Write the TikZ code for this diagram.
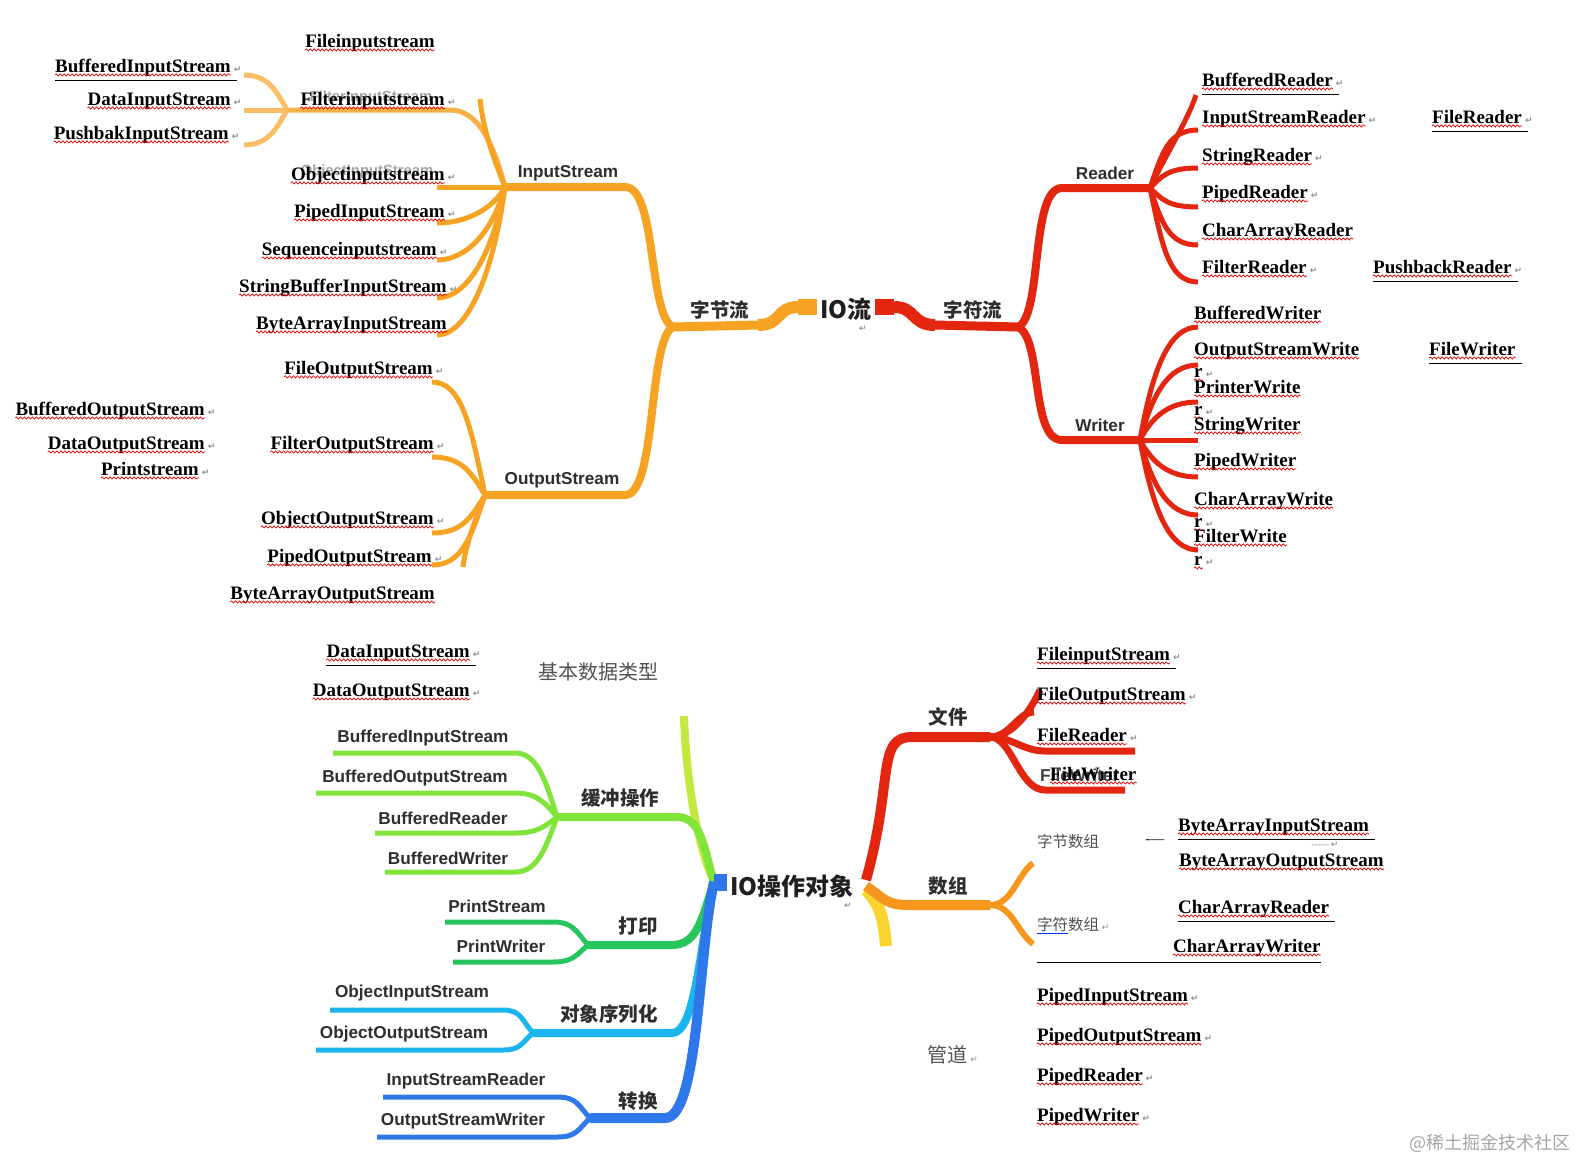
\documentclass[tikz,border=0pt]{standalone}
\usepackage{fontspec}
\setmainfont{Liberation Serif}
\newfontfamily\mmfont{Liberation Sans}
\newfontfamily\cjk{Noto Sans CJK SC}
\newfontfamily\symf{DejaVu Sans}
\usetikzlibrary{decorations.pathmorphing}

\definecolor{bytec}{RGB}{246,163,36}
\definecolor{charc}{RGB}{226,38,16}
\definecolor{bufc}{RGB}{128,228,58}
\definecolor{upc}{RGB}{196,232,62}
\definecolor{prnc}{RGB}{38,198,92}
\definecolor{serc}{RGB}{28,180,238}
\definecolor{cvtc}{RGB}{46,120,234}
\definecolor{arrc}{RGB}{247,150,28}
\definecolor{yelc}{RGB}{250,212,46}

\newcommand{\pmk}{\rlap{\,\textcolor{black!45}{\symf\fontsize{9}{9}\selectfont ↵}}}

\begin{document}
\begin{tikzpicture}[
    x=1pt, y=-1pt,
    jt/.style={font=\fontsize{19}{20}\selectfont\bfseries, inner sep=0pt,
               text height=12.8pt, text depth=2.6pt,
               append after command={(\tikzlastnode.south west) edge[wave] (\tikzlastnode.south east)}},
    wave/.style={draw=red!90!black, line width=0.7pt, decorate,
                 decoration={snake, amplitude=1.1pt, segment length=4pt}},
    ul/.style={append after command={([yshift=-5pt]\tikzlastnode.south west)
               edge[draw=black, line width=0.8pt] ([yshift=-5pt, xshift=6pt]\tikzlastnode.south east)}},
    mm/.style={font=\mmfont\bfseries\fontsize{17.2}{18}\selectfont, text=black!82, inner sep=0pt},
    ghost/.style={mm, text=black!35, font=\mmfont\bfseries\fontsize{14.8}{16}\selectfont},
    cn/.style={font=\cjk\bfseries\fontsize{19.5}{21}\selectfont, text=black!82, inner sep=0pt},
    big/.style={font=\cjk\bfseries\fontsize{24}{26}\selectfont, text=black!88, inner sep=0pt},
    cg/.style={font=\cjk\fontsize{20}{22}\selectfont, text=black!68, inner sep=0pt},
    cs/.style={font=\cjk\fontsize{15.5}{17}\selectfont, text=black!68, inner sep=0pt},
    pmark/.style={font=\symf\fontsize{9}{9}\selectfont, text=black!55, inner sep=0pt},
    leaf/.style={line width=5pt},
    limb/.style={line width=8pt}
  ]
  \fill[white] (0,0) rectangle (1576,1160);
  \useasboundingbox (0,0) rectangle (1576,1160);

  % byte streams
  \coordinate (ioL) at (817,307);
  \coordinate (bsL) at (798,307);
  \coordinate (bsZ) at (758,325);
  \coordinate (bhub) at (673,327);
  \coordinate (i1) at (625,187);
  \coordinate (ihub) at (505,187);
  \coordinate (o1) at (625,495);
  \coordinate (ohub) at (485,495);
  \coordinate (fhub) at (287,110);
  \coordinate (ifl) at (450,110);
  \coordinate (istub) at (480,99);
  \coordinate (ostub) at (463,567);
  \draw[bytec, line width=16pt] (bsL) -- (ioL);
  \draw[bytec, line width=9pt] (bhub) -- (bsZ);
  \draw[bytec, line width=12pt] (bsZ) .. controls +(24,0) and +(-22,0) .. (bsL);
  \draw[bytec, limb] (ihub) -- (i1) .. controls +(32,0) and +(-25,-12) .. (bhub);
  \draw[bytec, limb] (ohub) -- (o1) .. controls +(32,0) and +(-25,12) .. (bhub);
  \foreach \y [evaluate=\y as \d using 0.6*(\y-187)] in {187,223,260,298,335} {
    \coordinate (in\y) at (437,\y);
    \draw[bytec, leaf] (in\y) .. controls +(30,0) and +(-12,\d) .. (ihub);
  }
  \draw[bytec!85, leaf] (fhub) -- (ifl) .. controls +(28,0) and +(-12,-45) .. (ihub);
  \draw[bytec, leaf] (ihub) .. controls +(-12,-30) and +(3,30) .. (istub);
  \foreach \y [evaluate=\y as \d using 0.5*(\y-110)] in {75,110,145} {
    \coordinate (fl\y) at (244,\y);
    \draw[bytec!70, leaf] (fl\y) .. controls +(25,0) and +(-10,\d) .. (fhub);
  }
  \foreach \y [evaluate=\y as \d using 0.6*(\y-495)] in {382,457,533,565} {
    \coordinate (on\y) at (432,\y);
    \draw[bytec, leaf] (on\y) .. controls +(30,0) and +(-14,\d) .. (ohub);
  }
  \draw[bytec, leaf] (ohub) .. controls +(-10,25) and +(2,-20) .. (ostub);

  % char streams
  \coordinate (ioR) at (875,307);
  \coordinate (csR) at (894,307);
  \coordinate (csZ) at (935,325);
  \coordinate (chub) at (1018,327);
  \coordinate (r1) at (1062,188);
  \coordinate (rhub) at (1150,188);
  \coordinate (w1) at (1062,440);
  \coordinate (whub) at (1140,440);
  \coordinate (rstub) at (1196,95);
  \draw[charc, line width=16pt] (ioR) -- (csR);
  \draw[charc, line width=12pt] (csR) .. controls +(22,0) and +(-24,0) .. (csZ);
  \draw[charc, line width=9pt] (csZ) -- (chub);
  \draw[charc, limb] (chub) .. controls +(25,-12) and +(-32,0) .. (r1) -- (rhub);
  \draw[charc, limb] (chub) .. controls +(25,12) and +(-32,0) .. (w1) -- (whub);
  \draw[charc, leaf] (rhub) .. controls +(14,-30) and +(-8,25) .. (rstub);
  \foreach \y [evaluate=\y as \d using 0.6*(\y-188)] in {130,168,207,245,282} {
    \coordinate (rr\y) at (1198,\y);
    \draw[charc, leaf] (rhub) .. controls +(12,\d) and +(-30,0) .. (rr\y);
  }
  \foreach \y [evaluate=\y as \d using 0.6*(\y-440)] in {327,365,402,440,477,515,550} {
    \coordinate (ww\y) at (1198,\y);
    \draw[charc, leaf] (whub) .. controls +(12,\d) and +(-30,0) .. (ww\y);
  }

  % IO objects, left side
  \coordinate (bc) at (714,882);
  \coordinate (bcR) at (727,882);
  \coordinate (yg) at (684,716);
  \coordinate (hc1) at (677,817);
  \coordinate (hchub) at (557,817);
  \coordinate (hcbk) at (515,817);
  \coordinate (pr1) at (672,945);
  \coordinate (prhub) at (588,945);
  \coordinate (prbk) at (553,945);
  \coordinate (ob1) at (672,1033);
  \coordinate (obhub) at (533,1033);
  \coordinate (obbk) at (503,1033);
  \coordinate (cv1) at (665,1118);
  \coordinate (cvhub) at (590,1118);
  \coordinate (cvbk) at (557,1118);
  \draw[upc, limb] (bc) .. controls +(-18,-40) and +(2,60) .. (yg);
  \draw[bufc, limb] (hchub) -- (hc1) .. controls +(25,0) and +(-10,-32) .. (bc);
  \foreach \x/\y [evaluate=\y as \d using 0.6*(\y-817)] in {333/753,316/793,375/833,385/872} {
    \coordinate (hc\y) at (\x,\y);
    \draw[bufc, leaf] (hc\y) -- (hc\y -| hcbk) .. controls +(22,0) and +(-12,\d) .. (hchub);
  }
  \draw[prnc, limb] (prhub) -- (pr1) .. controls +(26,0) and +(-12,35) .. (bc);
  \foreach \x/\y [evaluate=\y as \d using 0.6*(\y-945)] in {445/922,453/962} {
    \coordinate (pr\y) at (\x,\y);
    \draw[prnc, leaf] (pr\y) -- (pr\y -| prbk) .. controls +(20,0) and +(-12,\d) .. (prhub);
  }
  \draw[serc, limb] (obhub) -- (ob1) .. controls +(24,0) and +(-14,60) .. (bc);
  \foreach \x/\y [evaluate=\y as \d using 0.6*(\y-1033)] in {330/1010,316/1050} {
    \coordinate (ob\y) at (\x,\y);
    \draw[serc, leaf] (ob\y) -- (ob\y -| obbk) .. controls +(18,0) and +(-12,\d) .. (obhub);
  }
  \draw[cvtc, line width=10pt] (cvhub) -- (cv1) .. controls +(34,0) and +(-16,70) .. (bc);
  \foreach \x/\y [evaluate=\y as \d using 0.6*(\y-1118)] in {383/1097,377/1137} {
    \coordinate (cv\y) at (\x,\y);
    \draw[cvtc, leaf] (cv\y) -- (cv\y -| cvbk) .. controls +(20,0) and +(-12,\d) .. (cvhub);
  }
  \draw[cvtc, line width=17pt] (bc) -- (bcR);

  % IO objects, right side
  \coordinate (ye0) at (866,890);
  \coordinate (ye1) at (886,946);
  \coordinate (ar0) at (866,886);
  \coordinate (ar1) at (910,905);
  \coordinate (arhub) at (990,905);
  \coordinate (au) at (1033,863);
  \coordinate (ad) at (1033,944);
  \coordinate (rc0) at (866,880);
  \coordinate (fi1) at (912,737);
  \coordinate (fihub) at (990,737);
  \coordinate (fu) at (1040,690);
  \coordinate (fm) at (1034,712);
  \coordinate (fr3) at (1045,751);
  \coordinate (fr3e) at (1135,751);
  \coordinate (fr4) at (1045,790);
  \coordinate (fr4e) at (1125,790);
  \draw[yelc, line width=12pt] (ye0) .. controls +(14,14) and +(-2,-26) .. (ye1);
  \draw[arrc, line width=10pt] (ar0) .. controls +(20,14) and +(-24,0) .. (ar1) -- (arhub);
  \draw[arrc, line width=6pt] (arhub) .. controls +(22,0) and +(-16,12) .. (au);
  \draw[arrc, line width=6pt] (arhub) .. controls +(22,0) and +(-16,-12) .. (ad);
  \draw[charc, line width=10pt] (rc0) .. controls +(28,-100) and +(-36,0) .. (fi1) -- (fihub);
  \draw[charc, line width=7pt] (fihub) .. controls +(22,0) and +(-10,22) .. (fu);
  \draw[charc, line width=7pt] (fihub) .. controls +(20,0) and +(-16,0) .. (fm);
  \draw[charc, line width=7pt] (fihub) .. controls +(22,0) and +(-22,0) .. (fr3) -- (fr3e);
  \draw[charc, line width=7pt] (fihub) .. controls +(22,0) and +(-26,0) .. (fr4) -- (fr4e);

  % texts, top left
  \node[ghost] (gFil) at (371,98) {FilterInputStream};
  \node[ghost] (gObj) at (367,172) {ObjectInputStream};
  \node[jt] (tFis) at (370,42) {Fileinputstream};
  \node[jt, ul, anchor=east] (tBis) at (231,67) {BufferedInputStream\pmk};
  \node[jt, anchor=east] (tDis) at (231,100) {DataInputStream\pmk};
  \node[jt, anchor=east] (tPbis) at (229,134) {PushbakInputStream\pmk};
  \node[jt, anchor=east] (tFilis) at (445,100) {Filterinputstream\pmk};
  \node[jt, anchor=east] (tOis) at (445,175) {Objectinputstream\pmk};
  \node[jt, anchor=east] (tPipis) at (445,212) {PipedInputStream\pmk};
  \node[jt, anchor=east] (tSeqis) at (437,250) {Sequenceinputstream\pmk};
  \node[jt, anchor=east] (tSbis) at (447,287) {StringBufferInputStream\pmk};
  \node[jt, anchor=east] (tBais) at (447,324) {ByteArrayInputStream};
  \node[jt, anchor=east] (tFos) at (433,369) {FileOutputStream\pmk};
  \node[jt, anchor=east] (tBos) at (205,410) {BufferedOutputStream\pmk};
  \node[jt, anchor=east] (tDos) at (205,444) {DataOutputStream\pmk};
  \node[jt, anchor=east] (tPrs) at (199,470) {Printstream\pmk};
  \node[jt, anchor=east] (tFilos) at (434,444) {FilterOutputStream\pmk};
  \node[jt, anchor=east] (tOos) at (434,519) {ObjectOutputStream\pmk};
  \node[jt, anchor=east] (tPipos) at (432,557) {PipedOutputStream\pmk};
  \node[jt, anchor=east] (tBaos) at (435,594) {ByteArrayOutputStream};

  % texts, top mind map
  \node[mm] (nIn) at (568,173) {InputStream};
  \node[mm] (nOut) at (562,480) {OutputStream};
  \node[cn] (nByte) at (720,310) {字节流};
  \node[big] (nIo) at (846,309) {IO流};
  \node[pmark] (nIoM) at (863,329) {↵};
  \node[cn] (nChar) at (973,310) {字符流};
  \node[mm] (nRd) at (1105,173) {Reader};
  \node[mm] (nWr) at (1100,425) {Writer};

  % texts, top right
  \node[jt, ul, anchor=west] (tBrd) at (1202,81) {BufferedReader\pmk};
  \node[jt, anchor=west] (tIsr) at (1202,118) {InputStreamReader\pmk};
  \node[jt, ul, anchor=west] (tFrd) at (1432,118) {FileReader\pmk};
  \node[jt, anchor=west] (tSrd) at (1202,156) {StringReader\pmk};
  \node[jt, anchor=west] (tPrd) at (1202,193) {PipedReader\pmk};
  \node[jt, anchor=west] (tCrd) at (1202,231) {CharArrayReader};
  \node[jt, anchor=west] (tFlrd) at (1202,268) {FilterReader\pmk};
  \node[jt, ul, anchor=west] (tPbrd) at (1373,268) {PushbackReader\pmk};
  \node[jt, anchor=west] (tBwr) at (1194,314) {BufferedWriter};
  \node[jt, anchor=west] (tOswr) at (1194,350) {OutputStreamWrite};
  \node[jt, ul, anchor=west] (tFwr) at (1429,350) {FileWriter};
  \node[jt, anchor=west] (tR1) at (1194,372) {r\pmk};
  \node[jt, anchor=west] (tPwr) at (1194,388) {PrinterWrite};
  \node[jt, anchor=west] (tR2) at (1194,410) {r\pmk};
  \node[jt, anchor=west] (tSwr) at (1194,425) {StringWriter};
  \node[jt, anchor=west] (tPipwr) at (1194,461) {PipedWriter};
  \node[jt, anchor=west] (tCwr) at (1194,500) {CharArrayWrite};
  \node[jt, anchor=west] (tR3) at (1194,522) {r\pmk};
  \node[jt, anchor=west] (tFlwr) at (1194,537) {FilterWrite};
  \node[jt, anchor=west] (tR4) at (1194,560) {r\pmk};

  % texts, bottom left
  \node[jt, ul, anchor=east] (bDis) at (470,652) {DataInputStream\pmk};
  \node[cg] (bBasic) at (598,672) {基本数据类型};
  \node[jt, anchor=east] (bDos) at (470,691) {DataOutputStream\pmk};
  \node[mm] (bBis) at (423,738) {BufferedInputStream};
  \node[mm] (bBos) at (415,778) {BufferedOutputStream};
  \node[mm] (bBrd) at (443,818) {BufferedReader};
  \node[mm] (bBwr) at (448,858) {BufferedWriter};
  \node[mm] (bPs) at (497,906) {PrintStream};
  \node[mm] (bPw) at (501,946) {PrintWriter};
  \node[mm] (bOis) at (412,993) {ObjectInputStream};
  \node[mm] (bOos) at (404,1034) {ObjectOutputStream};
  \node[mm] (bIsr) at (466,1081) {InputStreamReader};
  \node[mm] (bOsw) at (463,1121) {OutputStreamWriter};
  \node[cn] (bBuf) at (620,798) {缓冲操作};
  \node[cn] (bPrint) at (638,926) {打印};
  \node[cn] (bSer) at (609,1014) {对象序列化};
  \node[cn] (bConv) at (638,1101) {转换};
  \node[big] (bIo) at (792,886) {IO操作对象};
  \node[pmark] (bIoM) at (848,906) {↵};

  % texts, bottom right
  \node[cn] (bFile) at (948,717) {文件};
  \node[cn] (bArr) at (948,886) {数组};
  \node[jt, ul, anchor=west] (bFis) at (1037,655) {FileinputStream\pmk};
  \node[jt, anchor=west] (bFos) at (1037,695) {FileOutputStream\pmk};
  \node[jt, anchor=west] (bFrd) at (1037,736) {FileReader\pmk};
  \node[mm, anchor=west, text=black!75] (bFwrS) at (1040,775) {FileWriter};
  \node[jt, anchor=west] (bFwr) at (1050,775) {FileWriter};
  \node[cs, anchor=west] (bBytes) at (1037,842) {字节数组};
  \node[font=\fontsize{14}{14}\selectfont, inner sep=0pt] (bDash) at (1155,842) {-—};
  \node[jt, ul, anchor=west] (bBai) at (1178,826) {ByteArrayInputStream};
  \node[font=\fontsize{9}{9}\selectfont, text=black!50, inner sep=0pt] (bDots) at (1325,845) {{-}{-}{-}{-}{-}{-}\,{\symf ↵}};
  \node[jt, anchor=west] (bBao) at (1179,861) {ByteArrayOutputStream};
  \node[cs, anchor=west] (bChars) at (1037,925) {字符数组\pmk};
  \draw[blue!80!cyan, line width=0.8pt] ([yshift=-1pt]bChars.south west) -- ([yshift=-1pt, xshift=-31pt]bChars.south east);
  \node[jt, ul, anchor=west] (bCar) at (1178,908) {CharArrayReader};
  \node[jt, anchor=west] (bCaw) at (1173,947) {CharArrayWriter};
  \coordinate (bCawU) at (1037,962);
  \draw[line width=0.8pt] (bCawU) -- (bCawU -| bCaw.east);
  \node[cg] (bPipe) at (947,1055) {管道\pmk};
  \node[jt, anchor=west] (bPis) at (1037,996) {PipedInputStream\pmk};
  \node[jt, anchor=west] (bPos) at (1037,1036) {PipedOutputStream\pmk};
  \node[jt, anchor=west] (bPrd) at (1037,1076) {PipedReader\pmk};
  \node[jt, anchor=west] (bPwr) at (1037,1116) {PipedWriter\pmk};
  \node[font=\cjk\fontsize{18}{20}\selectfont, text=black!35, inner sep=0pt] (wm) at (1490,1143) {@稀土掘金技术社区};
\end{tikzpicture}
\end{document}
